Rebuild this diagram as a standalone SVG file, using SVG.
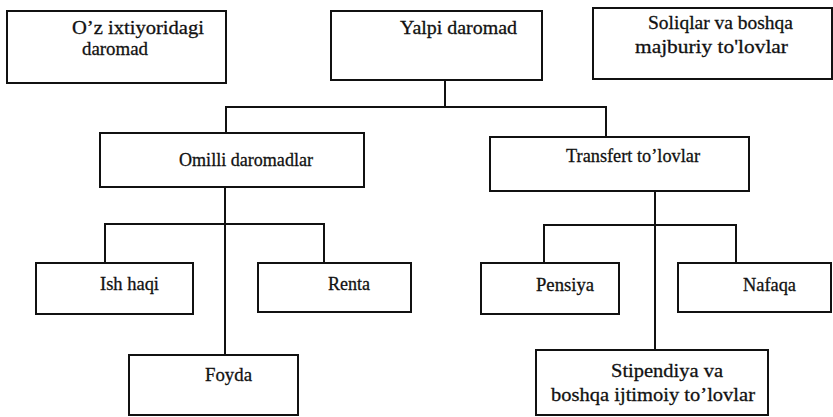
<svg xmlns="http://www.w3.org/2000/svg" width="833" height="417" viewBox="0 0 833 417">
<style>
rect{fill:#fff;stroke:#111;stroke-width:2}
.c line{stroke:#111;stroke-width:2}
text{font-family:"Liberation Serif","Times New Roman","DejaVu Serif",serif;font-size:19.5px;fill:#111;stroke:#111;stroke-width:0.3}
</style>
<rect x="0" y="0" width="833" height="417" style="stroke:none"/>
<g class="c" id="connectors">
<line x1="445" y1="80" x2="445" y2="107"/>
<line x1="226" y1="107" x2="606" y2="107"/>
<line x1="226" y1="106" x2="226" y2="133"/>
<line x1="606" y1="106" x2="606" y2="137"/>
<line x1="225" y1="187" x2="225" y2="355"/>
<line x1="105" y1="224" x2="325" y2="224"/>
<line x1="105" y1="223" x2="105" y2="263"/>
<line x1="324" y1="223" x2="324" y2="263"/>
<line x1="655" y1="191" x2="655" y2="350"/>
<line x1="544" y1="225" x2="736" y2="225"/>
<line x1="544" y1="224" x2="544" y2="263"/>
<line x1="736" y1="224" x2="736" y2="263"/>
</g>
<g id="ixtiyor"><rect x="7" y="11" width="219" height="72"/><text x="72" y="34" textLength="132" lengthAdjust="spacingAndGlyphs">O’z ixtiyoridagi</text><text x="82" y="55" textLength="66" lengthAdjust="spacingAndGlyphs">daromad</text></g>
<g id="yalpi"><rect x="331" y="11" width="211" height="69"/><text x="400" y="34" textLength="117" lengthAdjust="spacingAndGlyphs">Yalpi daromad</text></g>
<g id="soliqlar"><rect x="593" y="8" width="239" height="71"/><text x="648" y="29" textLength="145" lengthAdjust="spacingAndGlyphs">Soliqlar va boshqa</text><text x="635" y="53" textLength="153" lengthAdjust="spacingAndGlyphs">majburiy to'lovlar</text></g>
<g id="omilli"><rect x="100" y="133" width="264" height="54"/><text x="179" y="166" textLength="134" lengthAdjust="spacingAndGlyphs">Omilli daromadlar</text></g>
<g id="transfert"><rect x="490" y="137" width="259" height="54"/><text x="566" y="162" textLength="134" lengthAdjust="spacingAndGlyphs">Transfert to’lovlar</text></g>
<g id="ishhaqi"><rect x="36" y="263" width="157" height="51"/><text x="100" y="290" textLength="59" lengthAdjust="spacingAndGlyphs">Ish haqi</text></g>
<g id="renta"><rect x="258" y="263" width="153" height="49"/><text x="328" y="290" textLength="42" lengthAdjust="spacingAndGlyphs">Renta</text></g>
<g id="foyda"><rect x="129" y="355" width="169" height="60"/><text x="205" y="381" textLength="47" lengthAdjust="spacingAndGlyphs">Foyda</text></g>
<g id="pensiya"><rect x="481" y="263" width="138" height="51"/><text x="536" y="291" textLength="58" lengthAdjust="spacingAndGlyphs">Pensiya</text></g>
<g id="nafaqa"><rect x="678" y="263" width="153" height="49"/><text x="743" y="291" textLength="53" lengthAdjust="spacingAndGlyphs">Nafaqa</text></g>
<g id="stipendiya"><rect x="536" y="350" width="232" height="65"/><text x="611" y="377" textLength="112" lengthAdjust="spacingAndGlyphs">Stipendiya va</text><text x="551" y="401" textLength="204" lengthAdjust="spacingAndGlyphs">boshqa ijtimoiy to’lovlar</text></g>
</svg>
